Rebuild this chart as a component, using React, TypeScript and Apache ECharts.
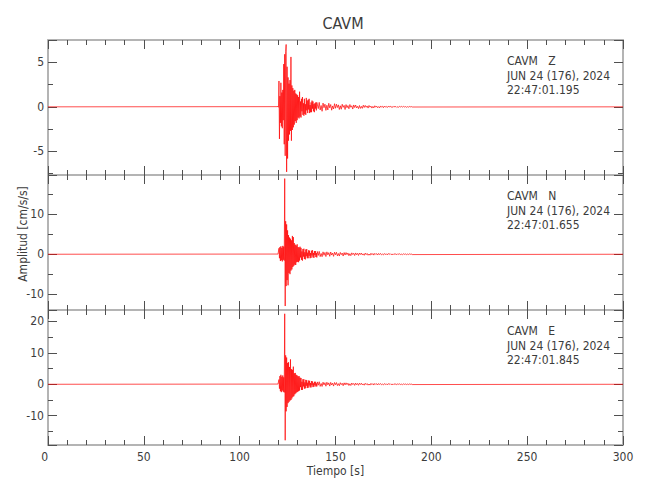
import React, { useEffect, useRef } from "react";
import * as echarts from "echarts";

// ---- data ----
const TITLE = "CAVM";
const STATION = "CAVM";
const COMPONENTS = ["Z", "N", "E"];
const DATE_LABEL = "JUN 24 (176), 2024";
const START_TIMES = ["22:47:01.195", "22:47:01.655", "22:47:01.845"];
const X_TICKS_STEP = 50;
const Y_RANGES: [number, number][] = [
  [-7.65, 7.5],
  [-14.0, 19.9],
  [-19.3, 23.6],
];
const Y_STEPS = [5, 10, 10];
const X_NAME = "Tiempo [s]";
const Y_NAME = "Amplitud [cm/s/s]";

// strong-motion part: starts at T_STRONG, one value every DT_STRONG seconds
const T_STRONG = 119.5;
const DT_STRONG = 0.25;
// coda: starts at T_CODA, one value every DT_CODA seconds
const T_CODA = 140.5;
const DT_CODA = 0.5;

const Z_STRONG = [
  0.02, -0.03, 0.04, -0.05, 2.9, -3.6, 1.2, -1.8, 2.7, -2.2, 1.6, -2.4, 1.9, -1.5, 4.8, -4.2,
  5.9, -5.5, 6.2, 7.0, -7.3, 4.5, -5.8, 3.3, -3.8, 2.6, -3.1, 3.0, -2.7, 5.6, -3.8, 2.4,
  -2.6, 2.1, -2.3, 1.8, -2.0, 1.9, -1.6, 1.5, -1.8, 1.4, -1.5, 1.3, -1.2, 1.1, -1.3, 1.7,
  -1.1, 0.6, -1.2, 0.9, -0.5, 1.1, -0.9, 0.4, -1.0, 0.9, -0.8, 0.3, -0.9, 1.0, -0.4, 0.7,
  -0.7, 0.8, -0.3, 0.9, -0.7, 0.2, -0.6, 0.5, -0.6, 0.7, -0.2, 0.6, -0.5, 0.3, -0.6, 0.4,
  -0.2, 0.5, -0.4, 0.5,
];
const Z_CODA = [
  0.45, -0.2, 0.5, -0.35, 0.15, -0.5, 0.42, -0.1, 0.3, -0.4,
  0.18, -0.35, 0.4, -0.12, 0.26, -0.38, 0.1, -0.24, 0.35, -0.16,
  0.3, -0.08, 0.22, -0.3, 0.12, -0.27, 0.29, -0.06, 0.16, -0.3,
  0.25, -0.1, 0.14, -0.22, 0.26, -0.05, 0.12, -0.25, 0.21, -0.08,
  0.2, -0.12, 0.06, -0.2, 0.15, -0.18, 0.05, -0.17, 0.18, -0.07,
  0.16, -0.05, 0.1, -0.14, 0.15, -0.04, 0.08, -0.14, 0.05, -0.12,
  0.12, -0.04, 0.08, -0.1, 0.03, -0.12, 0.1, -0.03, 0.06, -0.1,
  0.09, -0.03, 0.05, -0.08, 0.07, -0.02, 0.08, -0.05, 0.03, -0.06,
  0.07, -0.02, 0.04, -0.07, 0.02, -0.05, 0.06, -0.02, 0.05, -0.03,
  0.05, -0.02, 0.03, -0.05, 0.02, -0.04, 0.04, -0.01, 0.03, -0.02,
];

const N_STRONG = [
  0.05, -0.06, 0.04, -0.05, 1.5, -1.0, 1.8, -1.7, 2.0, -1.5, 1.6, -1.8, 2.1, -1.4, 1.9, -1.6,
  19.0, -13.0, 8.3, -8.0, 7.5, -6.5, 6.0, -7.8, 4.8, -4.7, 4.2, -5.0, 3.9, -4.1, 3.5, -3.8,
  4.6, -3.2, 4.3, -2.9, 2.8, -2.6, 2.4, -2.7, 2.2, -2.0, 2.5, -1.9, 1.8, -2.0, 1.7, -1.6,
  1.9, -0.8, 1.6, -1.4, 0.7, -1.6, 1.3, -0.6, 1.4, -1.2, 0.5, -1.3, 1.2, -0.5, 1.3, -1.0,
  0.4, -1.0, 1.0, -0.4, 0.9, -1.0, 0.3, -0.9, 0.9, -0.3, 1.0, -0.8, 0.3, -0.9, 0.8, -0.2,
  0.8, -0.7, 0.3, -0.8,
];
const N_CODA = [
  0.7, -0.3, 0.72, -0.6, 0.2, -0.62, 0.6, -0.25, 0.45, -0.58,
  0.6, -0.15, 0.4, -0.52, 0.56, -0.2, 0.3, -0.53, 0.52, -0.12,
  0.5, -0.4, 0.18, -0.45, 0.46, -0.1, 0.3, -0.45, 0.42, -0.2,
  0.42, -0.1, 0.32, -0.37, 0.15, -0.36, 0.35, -0.08, 0.24, -0.33,
  0.33, -0.12, 0.22, -0.3, 0.31, -0.06, 0.3, -0.2, 0.1, -0.27,
  0.28, -0.1, 0.2, -0.25, 0.06, -0.24, 0.25, -0.12, 0.18, -0.22,
  0.22, -0.05, 0.16, -0.2, 0.21, -0.08, 0.2, -0.15, 0.04, -0.18,
  0.18, -0.06, 0.12, -0.16, 0.17, -0.04, 0.16, -0.1, 0.06, -0.14,
  0.14, -0.04, 0.1, -0.12, 0.13, -0.05, 0.12, -0.09, 0.03, -0.1,
  0.11, -0.03, 0.08, -0.1, 0.06, -0.09, 0.1, -0.02, 0.07, -0.08,
];

const E_STRONG = [
  0.06, -0.05, 0.07, -0.06, 1.5, -1.4, 2.6, -2.2, 3.0, -2.5, 2.4, -2.0, 2.8, -2.4, 2.2, -2.6,
  22.4, -17.8, 9.2, -8.6, 8.5, -7.2, 6.8, -6.0, 7.0, -5.6, 5.5, -5.2, 7.9, -5.0, 4.8, -4.5,
  4.6, -4.0, 5.6, -3.8, 3.5, -3.2, 3.6, -2.9, 3.0, -2.6, 2.8, -2.4, 2.5, -2.2, 2.6, -2.0,
  2.1, -0.9, 2.0, -1.8, 0.8, -1.8, 1.6, -0.7, 1.6, -1.4, 0.6, -1.3, 1.4, -0.5, 1.3, -1.2,
  0.5, -1.1, 1.2, -0.4, 1.1, -1.0, 0.4, -1.0, 1.0, -0.3, 0.9, -0.9, 0.3, -0.8, 0.8, -0.3,
  0.8, -0.7, 0.3, -0.7,
];
const E_CODA = [
  0.75, -0.3, 0.8, -0.68, 0.25, -0.7, 0.66, -0.2, 0.5, -0.62,
  0.65, -0.18, 0.45, -0.58, 0.6, -0.22, 0.35, -0.58, 0.56, -0.14,
  0.54, -0.42, 0.2, -0.48, 0.5, -0.12, 0.32, -0.46, 0.45, -0.2,
  0.45, -0.12, 0.34, -0.4, 0.16, -0.39, 0.4, -0.1, 0.26, -0.36,
  0.37, -0.14, 0.25, -0.33, 0.35, -0.08, 0.33, -0.22, 0.12, -0.3,
  0.31, -0.1, 0.22, -0.28, 0.08, -0.27, 0.28, -0.12, 0.2, -0.25,
  0.25, -0.06, 0.18, -0.23, 0.24, -0.08, 0.23, -0.16, 0.05, -0.2,
  0.2, -0.07, 0.14, -0.18, 0.19, -0.05, 0.18, -0.12, 0.07, -0.16,
  0.16, -0.05, 0.11, -0.14, 0.15, -0.05, 0.14, -0.1, 0.04, -0.12,
  0.12, -0.04, 0.09, -0.1, 0.07, -0.1, 0.1, -0.03, 0.08, -0.09,
];

const STRONG = [Z_STRONG, N_STRONG, E_STRONG];
const CODA = [Z_CODA, N_CODA, E_CODA];
const X_MIN = 0;
const X_MAX = 300;

// ---- styling ----
const FONT = "'Liberation Sans Narrow', 'DejaVu Sans Condensed', 'Noto Sans', sans-serif";
const TEXT_COLOR = "#3c3c3c";
const FRAME_COLOR = "#b4b4b4";
const TICK_COLOR = "#505050";
const GRID_LEFT = 48;
const GRID_RIGHT = 27;
const GRID_TOP = 40;
const GRID_H = 135;

function buildSeries(k: number): [number, number][] {
  const pts: [number, number][] = [[X_MIN, 0]];
  STRONG[k].forEach((v, i) => pts.push([T_STRONG + i * DT_STRONG, v]));
  CODA[k].forEach((v, i) => pts.push([T_CODA + i * DT_CODA, v]));
  pts.push([X_MAX, 0]);
  return pts;
}

export default function App() {
  const ref = useRef<HTMLDivElement>(null);
  useEffect(() => {
    if (!ref.current) return;
    const chart = echarts.init(ref.current, undefined, { renderer: "svg" });

    const grids: any[] = [];
    const xAxes: any[] = [];
    const yAxes: any[] = [];
    const series: any[] = [];
    const graphics: any[] = [];

    const tickBase = {
      inside: true,
      length: 9,
      lineStyle: { color: TICK_COLOR, width: 1 },
    };
    const minorBase = (split: number) => ({
      show: true,
      splitNumber: split,
      length: 5,
      lineStyle: { color: TICK_COLOR, width: 1 },
    });
    const lineBase = { show: true, onZero: false, lineStyle: { color: FRAME_COLOR, width: 2 } };

    for (let k = 0; k < 3; k++) {
      const top = GRID_TOP + k * GRID_H;
      grids.push({ left: GRID_LEFT, right: GRID_RIGHT, top, height: GRID_H, containLabel: false });
      const [ymin, ymax] = Y_RANGES[k];
      xAxes.push({
        type: "value",
        gridIndex: k,
        position: "bottom",
        min: X_MIN,
        max: X_MAX,
        interval: X_TICKS_STEP,
        axisLine: lineBase,
        axisTick: tickBase,
        minorTick: minorBase(5),
        splitLine: { show: false },
        axisLabel: {
          show: k === 2,
          color: TEXT_COLOR,
          fontFamily: FONT,
          fontSize: 12,
          margin: 6,
          alignMinLabel: "right",
        },
        name: k === 2 ? X_NAME : "",
        nameLocation: "middle",
        nameGap: 20,
        nameTextStyle: { color: TEXT_COLOR, fontFamily: FONT, fontSize: 12 },
      });
      xAxes.push({
        type: "value",
        gridIndex: k,
        position: "top",
        min: X_MIN,
        max: X_MAX,
        interval: X_TICKS_STEP,
        axisLine: lineBase,
        axisTick: tickBase,
        minorTick: minorBase(5),
        splitLine: { show: false },
        axisLabel: { show: false },
      });
      yAxes.push({
        type: "value",
        gridIndex: k,
        position: "left",
        min: ymin,
        max: ymax,
        minInterval: Y_STEPS[k],
        maxInterval: Y_STEPS[k],
        axisLine: lineBase,
        axisTick: tickBase,
        minorTick: minorBase(2),
        splitLine: { show: false },
        axisLabel: {
          show: true,
          color: TEXT_COLOR,
          fontFamily: FONT,
          fontSize: 12,
          margin: 4,
          showMinLabel: false,
          showMaxLabel: false,
        },
      });
      yAxes.push({
        type: "value",
        gridIndex: k,
        position: "right",
        min: ymin,
        max: ymax,
        minInterval: Y_STEPS[k],
        maxInterval: Y_STEPS[k],
        axisLine: lineBase,
        axisTick: tickBase,
        minorTick: minorBase(2),
        splitLine: { show: false },
        axisLabel: { show: false },
      });

      series.push({
        type: "line",
        xAxisIndex: 2 * k,
        yAxisIndex: 2 * k,
        data: buildSeries(k),
        showSymbol: false,
        symbol: "none",
        clip: true,
        lineStyle: { color: "#ff0000", width: 0.7 },
        silent: true,
      });

      const lines = [`${STATION}   ${COMPONENTS[k]}`, DATE_LABEL, START_TIMES[k]];
      lines.forEach((txt, j) => {
        graphics.push({
          type: "text",
          left: 507,
          top: top + 15 + j * 14.5,
          style: { text: txt, fill: TEXT_COLOR, font: `12px ${FONT}` },
          silent: true,
        });
      });
    }

    graphics.push({
      type: "text",
      x: 23,
      y: 234,
      rotation: Math.PI / 2,
      style: {
        text: Y_NAME,
        fill: TEXT_COLOR,
        font: `12px ${FONT}`,
        align: "center",
        verticalAlign: "middle",
      },
      silent: true,
    });

    chart.setOption({
      animation: false,
      backgroundColor: "#ffffff",
      title: {
        text: TITLE,
        left: 338,
        top: 10,
        textAlign: "center",
        textStyle: { color: TEXT_COLOR, fontFamily: FONT, fontSize: 16, fontWeight: "normal" },
      },
      grid: grids,
      xAxis: xAxes,
      yAxis: yAxes,
      series,
      graphic: graphics,
    });
    return () => chart.dispose();
  }, []);
  return <div ref={ref} style={{ width: 650, height: 500, position: "absolute", left: 0, top: 0 }} />;
}
